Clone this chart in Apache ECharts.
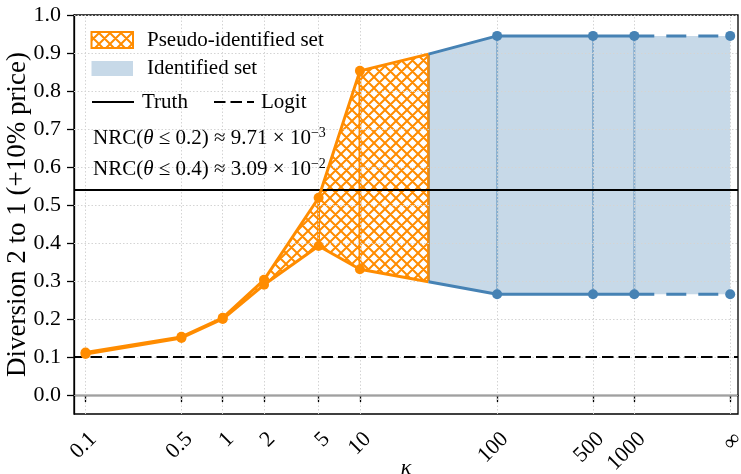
<!DOCTYPE html>
<html>
<head>
<meta charset="utf-8">
<title>Diversion 2 to 1</title>
<script src="https://cdn.jsdelivr.net/npm/echarts@6/dist/echarts.min.js"></script>
<style>
  html, body { margin: 0; padding: 0; background: #fff; }
  #chart { width: 741px; height: 474px; }
</style>
</head>
<body>
<div id="chart"></div>
<script>
// kappa values, "infinity" is placed at 5000 on the log axis
const xTickValues = [0.1, 0.5, 1, 2, 5, 10, 100, 500, 1000, 5000];
const xTickLabels = ['0.1', '0.5', '1', '2', '5', '10', '100', '500', '1000', '\u221e'];
const yTickValues = [0, 0.1, 0.2, 0.3, 0.4, 0.5, 0.6, 0.7, 0.8, 0.9, 1.0];

// pseudo-identified set (orange, hatched)
const pseudoKappa = [0.1, 0.5, 1, 2, 5, 10, 31.6];
const pseudoLower = [0.108, 0.150, 0.200, 0.290, 0.392, 0.331, 0.298];
const pseudoUpper = [0.112, 0.153, 0.203, 0.303, 0.519, 0.853, 0.897];

// identified set (blue)
const identKappa = [31.6, 100, 500, 1000, 5000];
const identLower = [0.298, 0.265, 0.265, 0.265, 0.265];
const identUpper = [0.897, 0.945, 0.945, 0.945, 0.945];

const truthValue = 0.541;
const logitValue = 0.10;

const ORANGE = '#ff8c00';
const BLUE = '#4682b4';
const BLUE_FILL = 'rgba(70,130,180,0.3)';
const FONT = "'Liberation Serif', 'DejaVu Serif', serif";

// cross hatch tile for the pseudo-identified set
function hatchTile(size, color, width) {
    const c = document.createElement('canvas');
    c.width = size;
    c.height = size;
    const ctx = c.getContext('2d');
    ctx.fillStyle = '#fff';
    ctx.fillRect(0, 0, size, size);
    ctx.strokeStyle = color;
    ctx.lineWidth = width;
    ctx.beginPath();
    for (const d of [-size, 0, size]) {
        ctx.moveTo(d, 0); ctx.lineTo(d + size, size);
        ctx.moveTo(d, size); ctx.lineTo(d + size, 0);
    }
    ctx.stroke();
    return c;
}
const hatch = { image: hatchTile(11, ORANGE, 2.0), repeat: 'repeat' };

function tickLabel(v) {
    for (let i = 0; i < xTickValues.length; i++) {
        if (Math.abs(Math.log10(v) - Math.log10(xTickValues[i])) < 1e-6) return xTickLabels[i];
    }
    return '';
}

// band between lower and upper, plus the vertical edges at each kappa
function bandRenderer(kappa, lower, upper, fill, edgeColor, edgeWidth, skipEnds) {
    return function (params, api) {
        const i = params.dataIndex;
        const children = [];
        if (i === 0) {
            const pts = [];
            for (let j = 0; j < kappa.length; j++) pts.push(api.coord([kappa[j], upper[j]]));
            for (let j = kappa.length - 1; j >= 0; j--) pts.push(api.coord([kappa[j], lower[j]]));
            children.push({ type: 'polygon', shape: { points: pts }, style: { fill: fill, stroke: null } });
        }
        if (!(skipEnds && (i === 0 || i === kappa.length - 1))) {
            const top = api.coord([api.value(0), api.value(2)]);
            const bot = api.coord([api.value(0), api.value(1)]);
            children.push({
                type: 'line',
                shape: { x1: top[0], y1: top[1], x2: bot[0], y2: bot[1] },
                style: { stroke: edgeColor, lineWidth: edgeWidth }
            });
        }
        return { type: 'group', children: children };
    };
}

function pairs(xs, ys) {
    return xs.map((x, i) => [x, ys[i]]);
}

const chart = echarts.init(document.getElementById('chart'));

const textBase = { fontFamily: FONT, fontSize: 21, fill: '#000' };

chart.setOption({
    animation: false,
    backgroundColor: '#fff',
    grid: {
        left: 74, right: 3, top: 15, bottom: 60,
        outerBoundsMode: 'none',
        containLabel: false,
        show: true, borderColor: '#000', borderWidth: 1.3, backgroundColor: '#fff'
    },
    xAxis: {
        type: 'log',
        logBase: 10,
        min: 0.0824,
        max: 5700,
        name: '\u03ba',
        nameLocation: 'middle',
        nameGap: 43,
        nameMoveOverlap: false,
        nameTextStyle: { fontFamily: FONT, fontSize: 22, fontStyle: 'italic', color: '#000' },
        axisLine: { show: true, lineStyle: { color: '#000', width: 1.3 } },
        axisTick: { show: true, customValues: xTickValues, length: 7, lineStyle: { color: '#000', width: 1.3 } },
        axisLabel: {
            customValues: xTickValues,
            rotate: 45,
            margin: 14,
            verticalAlign: 'top',
            formatter: tickLabel,
            fontFamily: FONT,
            fontSize: 22,
            color: '#000'
        },
        splitLine: { show: false },
        minorTick: { show: false }
    },
    yAxis: {
        type: 'value',
        min: -0.05,
        max: 1.0,
        name: 'Diversion 2 to 1 (+10% price)',
        nameLocation: 'middle',
        nameGap: 43,
        nameMoveOverlap: false,
        nameTextStyle: { fontFamily: FONT, fontSize: 27, color: '#000' },
        axisLine: { show: true, lineStyle: { color: '#000', width: 1.3 } },
        axisTick: { show: true, customValues: yTickValues, length: 7, lineStyle: { color: '#000', width: 1.3 } },
        axisLabel: {
            customValues: yTickValues,
            margin: 13,
            formatter: v => v.toFixed(1),
            fontFamily: FONT,
            fontSize: 22,
            color: '#000'
        },
        splitLine: { show: false }
    },
    series: [
        {
            // dotted grid
            type: 'line', data: [], z: 1, silent: true,
            markLine: {
                silent: true, symbol: 'none', label: { show: false },
                lineStyle: { color: '#d4d4d4', width: 1, type: [1.5, 2] },
                data: xTickValues.map(v => ({ xAxis: v })).concat(yTickValues.map(v => ({ yAxis: v })))
            }
        },
        {
            type: 'line', data: [], z: 2, silent: true,
            markLine: {
                silent: true, symbol: 'none', label: { show: false },
                lineStyle: { color: '#a0a0a0', width: 1.2, type: 'solid' },
                data: [{ yAxis: 0 }]
            }
        },
        {
            name: 'Pseudo-identified set',
            type: 'custom', z: 3, silent: true,
            data: pseudoKappa.map((k, i) => [k, pseudoLower[i], pseudoUpper[i]]),
            encode: { x: 0, y: [1, 2] },
            renderItem: bandRenderer(pseudoKappa, pseudoLower, pseudoUpper, hatch, ORANGE, 2.8, false)
        },
        {
            name: 'Identified set',
            type: 'custom', z: 4, silent: true,
            data: identKappa.map((k, i) => [k, identLower[i], identUpper[i]]),
            encode: { x: 0, y: [1, 2] },
            renderItem: bandRenderer(identKappa, identLower, identUpper, BLUE_FILL, 'rgba(70,130,180,0.5)', 2, true)
        },
        {
            name: 'Truth',
            type: 'line', data: [], z: 5, silent: true,
            markLine: {
                silent: true, symbol: 'none', label: { show: false },
                lineStyle: { color: '#000', width: 2, type: 'solid' },
                data: [{ yAxis: truthValue }]
            }
        },
        {
            name: 'Logit',
            type: 'line', data: [], z: 5, silent: true,
            markLine: {
                silent: true, symbol: 'none', label: { show: false },
                lineStyle: { color: '#000', width: 2, type: [11.5, 5] },
                data: [{ yAxis: logitValue }]
            }
        },
        {
            type: 'line', z: 6, data: pairs(pseudoKappa, pseudoUpper),
            symbol: 'circle', symbolSize: (v, p) => p.dataIndex === pseudoKappa.length - 1 ? 0 : 10,
            showAllSymbol: true,
            itemStyle: { color: ORANGE }, lineStyle: { color: ORANGE, width: 3 }
        },
        {
            type: 'line', z: 6, data: pairs(pseudoKappa, pseudoLower),
            symbol: 'circle', symbolSize: (v, p) => p.dataIndex === pseudoKappa.length - 1 ? 0 : 10,
            showAllSymbol: true,
            itemStyle: { color: ORANGE }, lineStyle: { color: ORANGE, width: 3 }
        },
        {
            type: 'line', z: 6, data: pairs(identKappa.slice(0, 4), identUpper.slice(0, 4)),
            symbol: 'circle', symbolSize: (v, p) => p.dataIndex === 0 ? 0 : 10,
            showAllSymbol: true,
            itemStyle: { color: BLUE }, lineStyle: { color: BLUE, width: 3 }
        },
        {
            type: 'line', z: 6, data: pairs(identKappa.slice(0, 4), identLower.slice(0, 4)),
            symbol: 'circle', symbolSize: (v, p) => p.dataIndex === 0 ? 0 : 10,
            showAllSymbol: true,
            itemStyle: { color: BLUE }, lineStyle: { color: BLUE, width: 3 }
        },
        {
            type: 'line', z: 6, data: pairs(identKappa.slice(3), identUpper.slice(3)),
            symbol: 'circle', symbolSize: (v, p) => p.dataIndex === 0 ? 0 : 10,
            showAllSymbol: true,
            itemStyle: { color: BLUE }, lineStyle: { color: BLUE, width: 3, type: [20, 12] }
        },
        {
            type: 'line', z: 6, data: pairs(identKappa.slice(3), identLower.slice(3)),
            symbol: 'circle', symbolSize: (v, p) => p.dataIndex === 0 ? 0 : 10,
            showAllSymbol: true,
            itemStyle: { color: BLUE }, lineStyle: { color: BLUE, width: 3, type: [20, 12] }
        }
    ],
    graphic: [
        // legend handles and labels
        { type: 'rect', z: 100, shape: { x: 91.5, y: 32, width: 41.5, height: 16 },
          style: { fill: hatch, stroke: ORANGE, lineWidth: 2 } },
        { type: 'text', z: 100, x: 147, y: 40,
          style: Object.assign({ text: 'Pseudo-identified set', verticalAlign: 'middle' }, textBase) },
        { type: 'rect', z: 100, shape: { x: 91.5, y: 61, width: 41.5, height: 15 },
          style: { fill: BLUE_FILL } },
        { type: 'text', z: 100, x: 147, y: 68.5,
          style: Object.assign({ text: 'Identified set', verticalAlign: 'middle' }, textBase) },
        { type: 'line', z: 100, shape: { x1: 92, y1: 102, x2: 134, y2: 102 },
          style: { stroke: '#000', lineWidth: 2 } },
        { type: 'text', z: 100, x: 142, y: 102,
          style: Object.assign({ text: 'Truth', verticalAlign: 'middle' }, textBase) },
        { type: 'line', z: 100, shape: { x1: 214, y1: 102, x2: 254, y2: 102 },
          style: { stroke: '#000', lineWidth: 2, lineDash: [11.5, 5] } },
        { type: 'text', z: 100, x: 261, y: 102,
          style: Object.assign({ text: 'Logit', verticalAlign: 'middle' }, textBase) },
        { type: 'text', z: 100, x: 93, y: 138,
          style: Object.assign({
              text: '{t|NRC(}{i|\u03b8}{t| \u2264 0.2) \u2248 9.71 \u00d7 10}{s|\u22123}',
              verticalAlign: 'middle',
              rich: {
                  t: { fontFamily: FONT, fontSize: 21, lineHeight: 24 },
                  i: { fontFamily: FONT, fontSize: 21, fontStyle: 'italic', lineHeight: 24 },
                  s: { fontFamily: FONT, fontSize: 14, verticalAlign: 'top', lineHeight: 16 }
              }
          }, textBase) },
        { type: 'text', z: 100, x: 93, y: 169,
          style: Object.assign({
              text: '{t|NRC(}{i|\u03b8}{t| \u2264 0.4) \u2248 3.09 \u00d7 10}{s|\u22122}',
              verticalAlign: 'middle',
              rich: {
                  t: { fontFamily: FONT, fontSize: 21, lineHeight: 24 },
                  i: { fontFamily: FONT, fontSize: 21, fontStyle: 'italic', lineHeight: 24 },
                  s: { fontFamily: FONT, fontSize: 14, verticalAlign: 'top', lineHeight: 16 }
              }
          }, textBase) }
    ]
});

window.addEventListener('resize', () => chart.resize());
</script>
</body>
</html>
